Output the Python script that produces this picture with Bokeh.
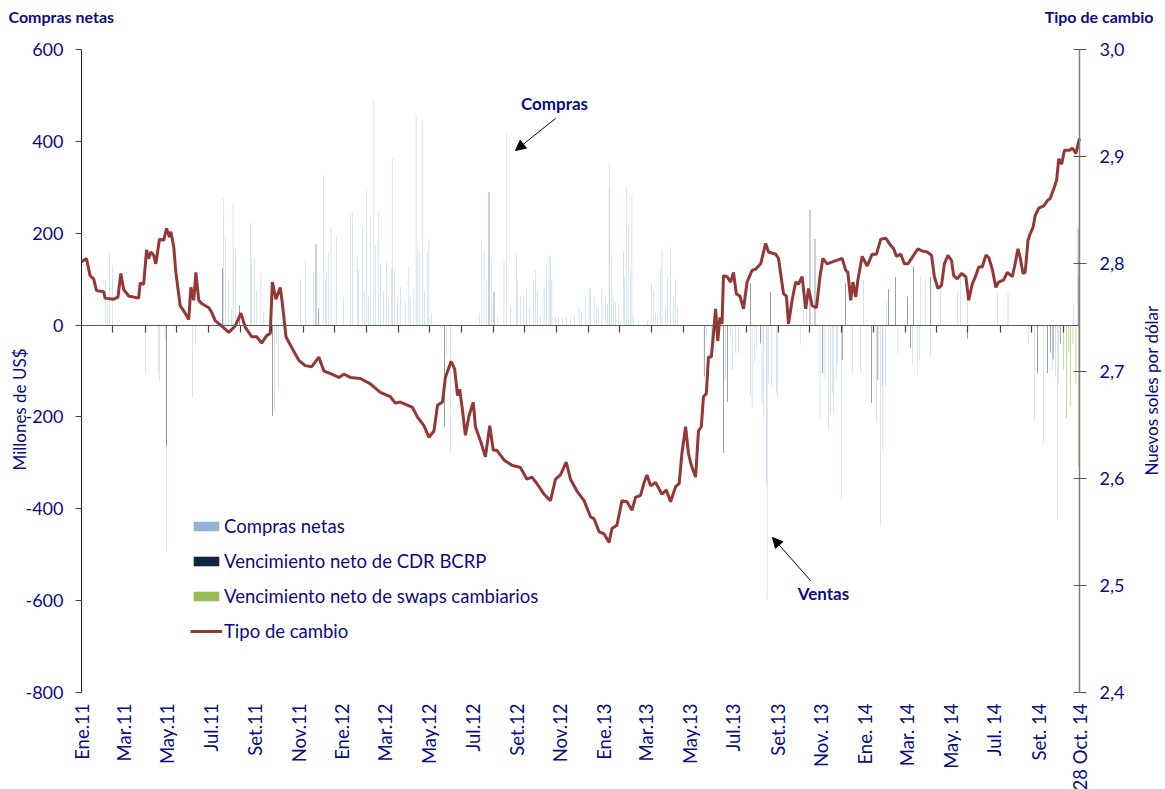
import math
from bokeh.plotting import figure
from bokeh.models import (Range1d, LinearAxis, FixedTicker, Legend, LegendItem,
                          Label, Arrow, NormalHead)
from bokeh.embed import file_html
from bokeh.resources import INLINE

# ---------------- data (days counted from 1 Jan 2011) ----------------
tc_dias = [0, 7, 12, 17, 21, 31, 33, 45, 51, 55, 59, 66, 80, 82, 87, 91, 94, 97, 101, 104,
           109, 115, 119, 123, 125, 129, 132, 138, 144, 150, 153, 157, 160, 164, 168, 178,
           182, 187, 196, 206, 215, 223, 229, 238, 245, 252, 259, 264, 267, 272, 278, 281,
           286, 294, 304, 313, 322, 332, 339, 350, 360,
           367, 376, 390, 404, 418, 432, 439, 446, 463, 470, 479, 486, 493, 498, 505, 509,
           517, 522, 526, 529, 533, 537, 542, 548, 551, 558, 565, 571, 576, 581, 591, 602,
           614, 623, 630, 637, 647, 656, 663, 670, 678, 684, 693, 703, 712,
           717, 724, 731, 738, 742, 749, 756, 763, 770, 775, 782, 787, 791, 796, 803, 812,
           818, 824, 831, 836, 840, 845, 849, 853, 859, 863, 867, 870, 874, 877, 881, 884,
           887, 890, 893, 896, 898, 903, 908, 912, 916, 921, 926, 931, 938, 943, 950, 957,
           961, 971, 975, 982, 986, 989, 994, 999, 1003, 1008, 1013, 1017, 1022, 1028, 1033,
           1037, 1043, 1055,
           1064, 1069, 1072, 1076, 1079, 1083, 1086, 1092, 1099, 1106, 1112, 1118, 1125,
           1132, 1136, 1140, 1146, 1151, 1156, 1162, 1170, 1176, 1183, 1189, 1193, 1198,
           1203, 1207, 1212, 1217, 1220, 1225, 1231, 1237, 1241, 1246, 1251, 1255, 1260,
           1265, 1269, 1274, 1279, 1283, 1290, 1295, 1302, 1305, 1310, 1313, 1317, 1320,
           1324, 1327, 1331, 1334, 1339, 1346, 1351, 1355, 1360, 1364, 1367, 1371, 1375,
           1382, 1386, 1391, 1396]
tc_valores = [2.802, 2.805, 2.789, 2.786, 2.775, 2.774, 2.768, 2.767, 2.769, 2.791, 2.776, 2.770,
              2.768, 2.782, 2.781, 2.813, 2.805, 2.811, 2.808, 2.800, 2.823, 2.822, 2.833, 2.825,
              2.830, 2.816, 2.792, 2.761, 2.755, 2.748, 2.778, 2.766, 2.792, 2.766, 2.763, 2.759,
              2.755, 2.747, 2.742, 2.736, 2.742, 2.754, 2.741, 2.732, 2.732, 2.726, 2.733, 2.735,
              2.783, 2.767, 2.778, 2.763, 2.732, 2.722, 2.710, 2.705, 2.704, 2.713, 2.700, 2.697,
              2.694,
              2.697, 2.694, 2.693, 2.688, 2.680, 2.676, 2.670, 2.671, 2.666, 2.657, 2.649, 2.638,
              2.644, 2.668, 2.671, 2.694, 2.709, 2.702, 2.677, 2.683, 2.663, 2.640, 2.658, 2.671,
              2.648, 2.635, 2.620, 2.649, 2.626, 2.626, 2.617, 2.612, 2.610, 2.599, 2.601, 2.595,
              2.585, 2.579, 2.599, 2.603, 2.615, 2.599, 2.588, 2.579, 2.564,
              2.562, 2.550, 2.548, 2.540, 2.553, 2.556, 2.579, 2.578, 2.570, 2.582, 2.584, 2.596,
              2.603, 2.593, 2.596, 2.585, 2.589, 2.578, 2.592, 2.595, 2.624, 2.648, 2.623, 2.612,
              2.601, 2.644, 2.648, 2.676, 2.679, 2.713, 2.713, 2.735, 2.758, 2.728, 2.750, 2.744,
              2.789, 2.788, 2.783, 2.792, 2.772, 2.770, 2.758, 2.783, 2.794, 2.795, 2.800, 2.819,
              2.811, 2.809, 2.805, 2.772, 2.770, 2.744, 2.766, 2.783, 2.781, 2.788, 2.758, 2.777,
              2.761, 2.759, 2.788, 2.805, 2.800, 2.803,
              2.805, 2.794, 2.792, 2.766, 2.783, 2.769, 2.785, 2.807, 2.798, 2.809, 2.809, 2.823,
              2.824, 2.817, 2.814, 2.807, 2.809, 2.800, 2.800, 2.806, 2.814, 2.812, 2.811, 2.808,
              2.788, 2.777, 2.780, 2.800, 2.808, 2.803, 2.789, 2.786, 2.791, 2.788, 2.766, 2.781,
              2.789, 2.797, 2.797, 2.808, 2.806, 2.795, 2.778, 2.783, 2.785, 2.792, 2.788, 2.797,
              2.814, 2.806, 2.791, 2.792, 2.822, 2.828, 2.834, 2.845, 2.852, 2.854, 2.859, 2.861,
              2.870, 2.878, 2.898, 2.893, 2.906, 2.906, 2.908, 2.903, 2.917]

compras_dias = [34, 36, 39, 43, 90, 108, 109, 118, 119, 155, 159, 199, 201, 206, 210, 212, 215,
                236, 238, 242, 245, 251, 255, 270, 273, 276, 306, 313, 325, 338, 341, 343, 345,
                349, 357,
                366, 376, 379, 386, 388, 393, 396, 399, 401, 404, 409, 411, 416, 418, 422, 427,
                430, 434, 435, 438, 442, 446, 453, 458, 460, 465, 468, 470, 473, 477, 480, 484,
                486, 490, 511, 516, 557, 560, 563, 567, 574, 582, 591, 595, 600, 608, 610, 614,
                618, 622, 627, 632, 635, 638, 642, 647, 650, 654, 656, 658, 663, 667, 673, 678,
                684, 690, 696, 699, 705, 710, 712, 717, 720, 723, 728, 733, 736, 738, 739, 741,
                744, 747, 751, 754,
                758, 760, 762, 765, 768, 770, 772, 779, 792, 797, 800, 803, 806, 810, 812, 817,
                820, 824, 828, 831, 834, 874, 881, 886, 890, 901, 908, 911, 915, 919, 936, 938,
                942, 944, 952, 954, 958, 959, 961, 965, 972, 974, 1006, 1010, 1014, 1033, 1040,
                1045, 1048, 1050, 1052, 1056, 1057, 1063, 1079, 1090, 1094, 1112, 1118, 1120,
                1121, 1125, 1126, 1142, 1162, 1169, 1172, 1174, 1181, 1188, 1202, 1225, 1230,
                1239, 1281, 1296, 1325, 1333, 1346, 1358, 1362, 1365, 1367, 1388, 1395]
compras_valores = [98, 60, 158, 130, -105, -105, -123, -33, -489, -159, -43, 275, 192, 98, 36, 264,
                   163, 223, 149, 146, 76, 111, 30, -185, -40, -141, 99, 140, 116, 326, 98, 116,
                   157, 212, 192,
                   60, 243, 244, 149, 120, 210, 72, 293, 65, 237, 489, 174, 249, 134, 76, 138, 60,
                   123, 362, 120, 60, 83, 50, 127, 60, 80, 457, 167, 163, 446, 76, 159, 188, 25,
                   -69, -279, 25, 185, 163, 100, 138, 15, 140, 417, 40, 157, 98, 62, 62, 80, 40,
                   98, 120, 75, 20, 80, 130, 151, 151, 98, 18, 18, 15, 18, 15, 20, 40, 25, 62, 80,
                   80, 62, 41, 35, 80, 62, 45, 351, 301, 150, 62, 51, 45, 10,
                   159, 105, 301, 217, 120, 280, 18, 10, 10, 91, 76, 25, 18, 120, 162, 40, 105, 169,
                   62, 99, 40, -25, -60, -50, -20, -120, -25, -98, -62, -62, -156, -178, -83, -47,
                   -174, -199, -348, -598, -127, -134, -149, -159, -43, 54, 40, -203, -116, -228,
                   -192, -149, -192, -116, -84, -379, -105, -105, 98, -210, -438, -134, -272, -134,
                   51, -62, -87, -109, -76, 105, 101, -69, 80, 76, 112, 83, 69, 72, -40, -210, -257,
                   -98, -112, -420, -134, 47, 105]

cdr_dias = [119, 197, 221, 264, 267, 328, 332, 508, 570, 577, 871, 898, 904, 936, 950, 964, 1019,
            1026, 1037, 1064, 1069, 1105, 1114, 1129, 1139, 1155, 1160, 1164, 1188, 1239, 1337,
            1351, 1355, 1359, 1369, 1394]
cdr_valores = [-263, 123, 43, -15, -198, 176, 36, -221, 290, 72, -112, -278, -167, 91, -40, 72, 251,
               188, -105, -76, 91, -170, -120, 78, 105, 62, -50, 127, 105, -30, -105, -105, -60,
               -75, -40, 210]

swaps_dias = [1374, 1378, 1381, 1383, 1387, 1391, 1395]
swaps_valores = [-98, -203, -60, -178, -40, -127, -308]

meses_dias = [0, 59, 120, 181, 243, 304, 365, 425, 486, 547, 609, 670, 731, 790, 851, 912, 974,
              1035, 1096, 1155, 1216, 1277, 1339, 1396]
meses_etiquetas = ["Ene.11", "Mar.11", "May.11", "Jul.11", "Set.11", "Nov.11", "Ene.12", "Mar.12",
                   "May.12", "Jul.12", "Set.12", "Nov.12", "Ene.13", "Mar.13", "May.13", "Jul.13",
                   "Set.13", "Nov. 13", "Ene. 14", "Mar. 14", "May. 14", "Jul. 14", "Set. 14",
                   "28 Oct. 14"]
izq_ticks = [-800, -600, -400, -200, 0, 200, 400, 600]
der_ticks = [2.4, 2.5, 2.6, 2.7, 2.8, 2.9, 3.0]
der_etiquetas = ["2,4", "2,5", "2,6", "2,7", "2,8", "2,9", "3,0"]

# ---------------- layout / styles ----------------
W, H = 1165, 789
PL, PR, PT, PB = 81, 1079, 49, 692          # pixel box of the data area
X0, X1 = 0, 1396
YL0, YL1 = -800, 600
YR0, YR1 = 2.4, 3.0
kx = (PR - PL) / (X1 - X0)
ky = (PB - PT) / (YL1 - YL0)
kr = (PB - PT) / (YR1 - YR0)

NAVY = "#0c0c84"
FONT = "Lato"
C_COMPRAS = "#95B3D7"
C_CDR = "#10253F"
C_SWAP = "#9BBB59"
C_TC = "#953735"

p = figure(frame_width=W, frame_height=H, output_backend="svg", toolbar_location=None,
           x_range=Range1d(X0 - PL / kx, X1 + (W - PR) / kx),
           y_range=Range1d(YL0 - (H - PB) / ky, YL1 + PT / ky),
           min_border=0, x_axis_location=None, y_axis_location=None)
p.outline_line_color = None
p.xgrid.visible = False
p.ygrid.visible = False
p.background_fill_color = "white"
p.border_fill_color = "white"
p.extra_y_ranges = {"tc": Range1d(YR0 - (H - PB) / kr, YR1 + PT / kr)}

# left axis
ya = LinearAxis(fixed_location=X0, bounds=(YL0, YL1), ticker=FixedTicker(ticks=izq_ticks))
ya.major_label_overrides = {t: str(t) for t in izq_ticks}
ya.axis_line_color = "#222222"
ya.major_tick_line_color = "#444444"
ya.major_tick_out = 6
ya.major_tick_in = 0
ya.minor_tick_line_color = None
ya.major_label_standoff = 12
ya.major_label_text_font = FONT
ya.major_label_text_font_size = "18px"
ya.major_label_text_color = NAVY
p.add_layout(ya, "left")

# right axis
ra = LinearAxis(y_range_name="tc", fixed_location=X1, bounds=(YR0, YR1),
                ticker=FixedTicker(ticks=der_ticks))
ra.major_label_overrides = dict(zip(der_ticks, der_etiquetas))
ra.axis_line_color = "#7f7f7f"
ra.axis_line_width = 1.5
ra.major_tick_line_color = "#555555"
ra.major_tick_in = 6
ra.major_tick_out = 7
ra.minor_tick_line_color = None
ra.major_label_standoff = 13
ra.major_label_text_font = FONT
ra.major_label_text_font_size = "18px"
ra.major_label_text_color = NAVY
p.add_layout(ra, "right")

# bottom axis (month labels only)
xa = LinearAxis(fixed_location=YL0, bounds=(X0, X1), ticker=FixedTicker(ticks=meses_dias))
xa.major_label_overrides = dict(zip(meses_dias, meses_etiquetas))
xa.major_label_orientation = math.pi / 2
xa.axis_line_color = None
xa.major_tick_line_color = None
xa.minor_tick_line_color = None
xa.major_label_standoff = 5
xa.major_label_text_font = FONT
xa.major_label_text_font_size = "18.5px"
xa.major_label_text_color = NAVY
p.add_layout(xa, "below")

# category axis crossing at zero (line + tick marks, no labels)
cero_ticks = [round(44.3 * i) for i in range(1, 32)]
za = LinearAxis(fixed_location=0, bounds=(X0, X1), ticker=FixedTicker(ticks=cero_ticks))
za.major_label_overrides = {t: "" for t in cero_ticks}
za.axis_line_color = "#595959"
za.axis_line_width = 1.2
za.major_tick_line_color = "#444444"
za.major_tick_line_width = 1.2
za.major_tick_out = 7
za.major_tick_in = 0
za.minor_tick_line_color = None
p.add_layout(za, "below")

# bars (thin columns, one per day)
rb1 = p.vbar(x=compras_dias, top=compras_valores, bottom=0, width=0.5,
             fill_color=C_COMPRAS, line_color=None)
rb2 = p.vbar(x=cdr_dias, top=cdr_valores, bottom=0, width=0.6,
             fill_color=C_CDR, line_color=None)
rb3 = p.vbar(x=swaps_dias, top=swaps_valores, bottom=0, width=0.8,
             fill_color=C_SWAP, line_color=None)

# exchange rate line
rl = p.line(x=tc_dias, y=tc_valores, y_range_name="tc", line_color=C_TC, line_width=3)

legend = Legend(items=[LegendItem(label="Compras netas", renderers=[rb1]),
                       LegendItem(label="Vencimiento neto de CDR BCRP", renderers=[rb2]),
                       LegendItem(label="Vencimiento neto de swaps cambiarios", renderers=[rb3]),
                       LegendItem(label="Tipo de cambio", renderers=[rl])],
                location=(190, H - 642), glyph_width=32, glyph_height=12, label_standoff=2,
                spacing=13, padding=0, margin=0, label_height=20,
                border_line_alpha=0, background_fill_alpha=0,
                label_text_font=FONT, label_text_font_size="18.5px", label_text_color=NAVY)
p.add_layout(legend)


def px_x(px):
    return X0 + (px - PL) / kx


def px_y(py):
    return YL1 - (py - PT) / ky


def texto(px, py, t, size, bold=False, align="center", angle=0.0):
    p.add_layout(Label(x=px_x(px), y=px_y(py), text=t, text_font=FONT, text_font_size=size,
                       text_font_style="bold" if bold else "normal", text_color=NAVY,
                       text_align=align, text_baseline="middle", angle=angle))


texto(8, 16, "Compras netas", "16px", bold=True, align="left")
texto(1153, 16, "Tipo de cambio", "16px", bold=True, align="right")
texto(19, 409, "Millones de US$", "17px", angle=math.pi / 2)
texto(1151, 390, "Nuevos soles por dólar", "17px", angle=math.pi / 2)
texto(554, 103, "Compras", "17px", bold=True)
texto(823, 593, "Ventas", "17px", bold=True)


def flecha(ax, ay, bx, by):
    p.add_layout(Arrow(end=NormalHead(size=10, fill_color="black", line_color="black"),
                       x_start=px_x(ax), y_start=px_y(ay), x_end=px_x(bx), y_end=px_y(by),
                       line_color="black", line_width=1))


flecha(555, 118, 515, 150)
flecha(810, 580, 772, 537)

open("out.html", "w").write(file_html(p, INLINE))
